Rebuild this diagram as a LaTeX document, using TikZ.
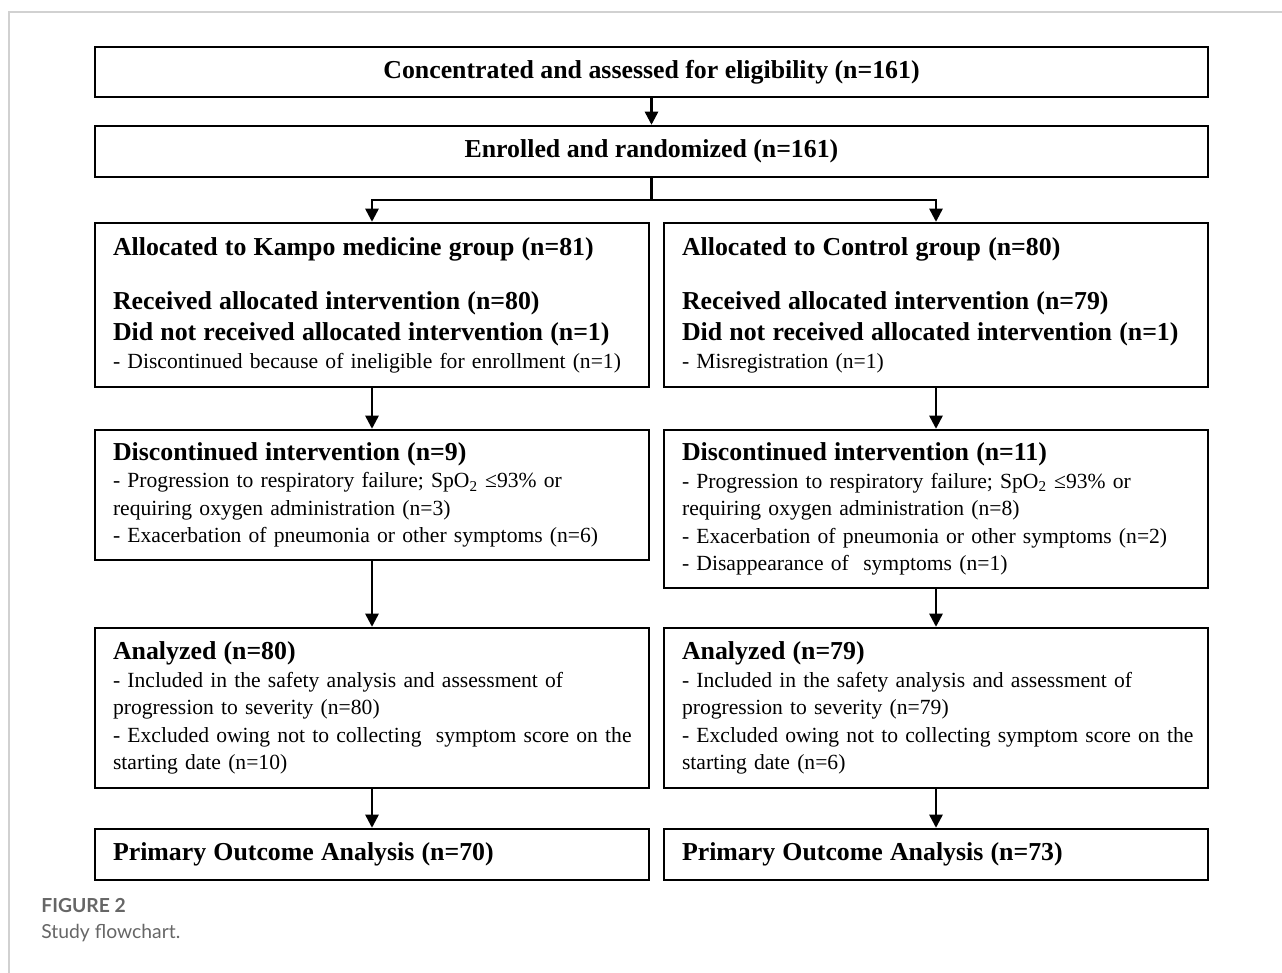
\documentclass[tikz,border=0pt]{standalone}
\usepackage{fontspec}
\setmainfont{Liberation Serif}
\newfontfamily\capfont{Lato}
\usetikzlibrary{arrows.meta,positioning,calc}
\tikzset{
  flowbox/.style={draw, rectangle, line width=1.4pt, align=left, inner xsep=0.36cm, inner ysep=0pt, font=\fontsize{12.3}{15.6}\selectfont},
  flowtitle/.style={draw, rectangle, line width=1.4pt, align=center, inner sep=0pt, font=\fontsize{14.7}{15.6}\selectfont\bfseries},
  flowarrow/.style={-{Triangle[length=7.5pt,width=7.5pt]}, line width=1.4pt},
  frameline/.style={draw=black!18, line width=0.6pt},
  captext/.style={anchor=base west, inner sep=0pt, text=black!60, font=\capfont\fontsize{11}{13}\selectfont},
}
\newcommand{\flowhead}[1]{{\fontsize{14.7}{15.6}\selectfont\bfseries #1}}
\newcommand{\flowitem}[1]{\mbox{#1}}

\begin{document}
\begin{tikzpicture}[x=0.02cm, y=-0.02cm]
  \useasboundingbox (0,0) rectangle (1282,973);
  \draw[frameline] (9,973) -- (9,12) -- (1282,12);

  % screening and randomisation
  \node[flowtitle, minimum width=22.26cm, minimum height=1.0cm] (elig) at (651.5,72) {Concentrated and assessed for eligibility (n=161)};
  \node[flowtitle, minimum width=22.26cm, minimum height=1.02cm] (enroll) at (651.5,151.5) {Enrolled and randomized (n=161)};

  % allocation
  \node[flowbox, text width=10.36cm, minimum height=3.28cm] (kampo) at (372,305) {\flowhead{Allocated to Kampo medicine group (n=81)}\\[15.6pt]
    \flowhead{Received allocated intervention (n=80)}\\[2pt]
    \flowhead{Did not received allocated intervention (n=1)}\\
    \flowitem{- Discontinued because of ineligible for enrollment (n=1)}};
  \node[flowbox, text width=10.16cm, minimum height=3.28cm] (control) at (936,305) {\flowhead{Allocated to Control group (n=80)}\\[15.6pt]
    \flowhead{Received allocated intervention (n=79)}\\[2pt]
    \flowhead{Did not received allocated intervention (n=1)}\\
    \flowitem{- Misregistration (n=1)}};

  % follow-up
  \node[flowbox, text width=10.36cm, minimum height=2.6cm] (kdisc) at (372,495) {\flowhead{Discontinued intervention (n=9)}\\
    \flowitem{- Progression to respiratory failure; SpO\textsubscript{2} ≤93\% or}\\
    \flowitem{requiring oxygen administration (n=3)}\\
    \flowitem{- Exacerbation of pneumonia or other symptoms (n=6)}};
  \node[flowbox, text width=10.16cm, minimum height=3.16cm] (cdisc) at (936,509) {\flowhead{Discontinued intervention (n=11)}\\
    \flowitem{- Progression to respiratory failure; SpO\textsubscript{2} ≤93\% or}\\
    \flowitem{requiring oxygen administration (n=8)}\\
    \flowitem{- Exacerbation of pneumonia or other symptoms (n=2)}\\
    \flowitem{- Disappearance of~ symptoms (n=1)}};

  % analysis
  \node[flowbox, text width=10.36cm, minimum height=3.2cm] (kanal) at (372,708) {\flowhead{Analyzed (n=80)}\\
    \flowitem{- Included in the safety analysis and assessment of}\\
    \flowitem{progression to severity (n=80)}\\
    \flowitem{- Excluded owing not to collecting~ symptom score on the}\\
    \flowitem{starting date (n=10)}};
  \node[flowbox, text width=10.16cm, minimum height=3.2cm] (canal) at (936,708) {\flowhead{Analyzed (n=79)}\\
    \flowitem{- Included in the safety analysis and assessment of}\\
    \flowitem{progression to severity (n=79)}\\
    \flowitem{- Excluded owing not to collecting symptom score on the}\\
    \flowitem{starting date (n=6)}};
  \node[flowbox, text width=10.36cm, minimum height=1.02cm] (kprim) at (372,854.5) {\flowhead{Primary Outcome Analysis (n=70)}};
  \node[flowbox, text width=10.16cm, minimum height=1.02cm] (cprim) at (936,854.5) {\flowhead{Primary Outcome Analysis (n=73)}};

  % connectors
  \coordinate (split) at (651.5,200);
  \draw[flowarrow] (elig) -- (enroll);
  \draw[flowarrow] (enroll.south) -- (split) -| (kampo.north);
  \draw[flowarrow] (split) -| (control.north);
  \draw[flowarrow] (kampo) -- (kdisc);
  \draw[flowarrow] (control) -- (cdisc);
  \draw[flowarrow] (kdisc) -- (kanal);
  \draw[flowarrow] (cdisc) -- (canal);
  \draw[flowarrow] (kanal) -- (kprim);
  \draw[flowarrow] (canal) -- (cprim);

  % caption
  \node[captext, font=\capfont\bfseries\fontsize{11}{13}\selectfont] (figlabel) at (41,912) {FIGURE 2};
  \node[captext] (figcaption) at (41,938) {Study flowchart.};
\end{tikzpicture}
\end{document}
